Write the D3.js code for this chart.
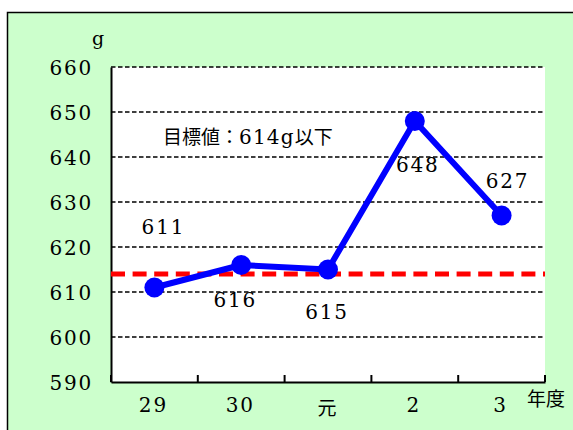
<!DOCTYPE html>
<html><head><meta charset="utf-8">
<script src="https://cdn.jsdelivr.net/npm/d3@7"></script>
<style>body{margin:0;background:#fff}svg{display:block}</style>
</head><body>
<script>
const categories = ["29", "30", "元", "2", "3"];
const values = [611, 616, 615, 648, 627];
const target = 614;
const yTicks = [590, 600, 610, 620, 630, 640, 650, 660];
const targetText = ["目標値：", "614g", "以下"];

const W = 573, H = 430;
const m = {left: 111, right: 545, top: 67, bottom: 382};
const labelOffsets = [[9, -54], [-6, 42], [-1, 49], [3, 51], [6, -28]];
const serif = "'DejaVu Serif', serif";
const jp = "'Noto Sans CJK JP', sans-serif";

const svg = d3.select("body").append("svg").attr("width", W).attr("height", H);
svg.append("rect").attr("x", 7.5).attr("y", 12.5).attr("width", 700).attr("height", 600)
  .attr("fill", "#CCFFCC").attr("stroke", "#000").attr("stroke-width", 1.5);

const x = d3.scaleBand().domain(categories).range([m.left, m.right]);
const y = d3.scaleLinear().domain([590, 660]).range([m.bottom, m.top]);

svg.append("rect").attr("x", m.left).attr("y", m.top).attr("width", m.right - m.left)
  .attr("height", m.bottom - m.top).attr("fill", "#fff");

// gridlines
svg.append("g").selectAll("line").data(yTicks.filter(t => t > 590)).join("line")
  .attr("x1", m.left).attr("x2", m.right).attr("y1", d => y(d)).attr("y2", d => y(d))
  .attr("stroke", "#000").attr("stroke-width", 1.5).attr("stroke-dasharray", "4.5,2.5");

// y axis
const yAxis = svg.append("g").attr("transform", `translate(${m.left},0)`)
  .call(d3.axisLeft(y).tickValues(yTicks).tickSize(0).tickPadding(18));
yAxis.select(".domain").attr("stroke", "#000").attr("stroke-width", 2);
yAxis.selectAll("text").attr("font-family", serif).attr("font-size", 20)
  .attr("letter-spacing", 1.8).attr("fill", "#000").attr("dy", "0.36em");

// x axis
const xAxis = svg.append("g").attr("transform", `translate(0,${m.bottom})`)
  .call(d3.axisBottom(x).tickSize(0).tickPadding(0));
xAxis.select(".domain").attr("stroke", "#000").attr("stroke-width", 2);
xAxis.selectAll("text").remove();
const tickPos = categories.map(c => x(c)).concat([m.right]);
svg.append("g").selectAll("line").data(tickPos).join("line")
  .attr("x1", d => d).attr("x2", d => d).attr("y1", m.bottom).attr("y2", m.bottom - 7)
  .attr("stroke", "#000").attr("stroke-width", 2);
svg.append("g").selectAll("text").data(categories).join("text")
  .attr("x", d => x(d) + x.bandwidth() / 2 - 1).attr("y", d => d === "元" ? 415 : 412)
  .attr("text-anchor", "middle")
  .attr("font-family", d => d === "元" ? jp : serif).attr("font-size", d => d === "元" ? 19 : 20)
  .attr("letter-spacing", d => d === "元" ? 0 : 1.8)
  .text(d => d);

// units
svg.append("text").attr("x", 98).attr("y", 45).attr("text-anchor", "middle")
  .attr("font-family", serif).attr("font-size", 19).text("g");
svg.append("text").attr("x", 527).attr("y", 406)
  .attr("font-family", jp).attr("font-size", 19).text("年度");

// target line
svg.append("line").attr("x1", m.left).attr("x2", m.right).attr("y1", y(target)).attr("y2", y(target))
  .attr("stroke", "#FF0000").attr("stroke-width", 5).attr("stroke-dasharray", "14,7.6");

// target text
const tt = svg.append("text").attr("x", 163).attr("y", 144).attr("font-size", 19);
tt.append("tspan").attr("font-family", jp).text(targetText[0]);
tt.append("tspan").attr("font-family", serif).attr("font-size", 20).attr("letter-spacing", 1.2).text(targetText[1]);
tt.append("tspan").attr("font-family", jp).text(targetText[2]);

// series line
const cx = (d, i) => x(categories[i]) + x.bandwidth() / 2;
svg.append("path").datum(values)
  .attr("d", d3.line().x((d, i) => cx(d, i)).y(d => y(d)))
  .attr("fill", "none").attr("stroke", "#0000FF").attr("stroke-width", 6).attr("stroke-linejoin", "round");
svg.append("g").selectAll("circle").data(values).join("circle")
  .attr("cx", (d, i) => cx(d, i)).attr("cy", d => y(d)).attr("r", 10).attr("fill", "#0000FF");

// data labels
svg.append("g").selectAll("text").data(values).join("text")
  .attr("x", (d, i) => cx(d, i) + labelOffsets[i][0]).attr("y", (d, i) => y(d) + labelOffsets[i][1])
  .attr("text-anchor", "middle").attr("font-family", serif).attr("font-size", 20)
  .attr("letter-spacing", 1.8).text(d => d);
</script>
</body></html>
